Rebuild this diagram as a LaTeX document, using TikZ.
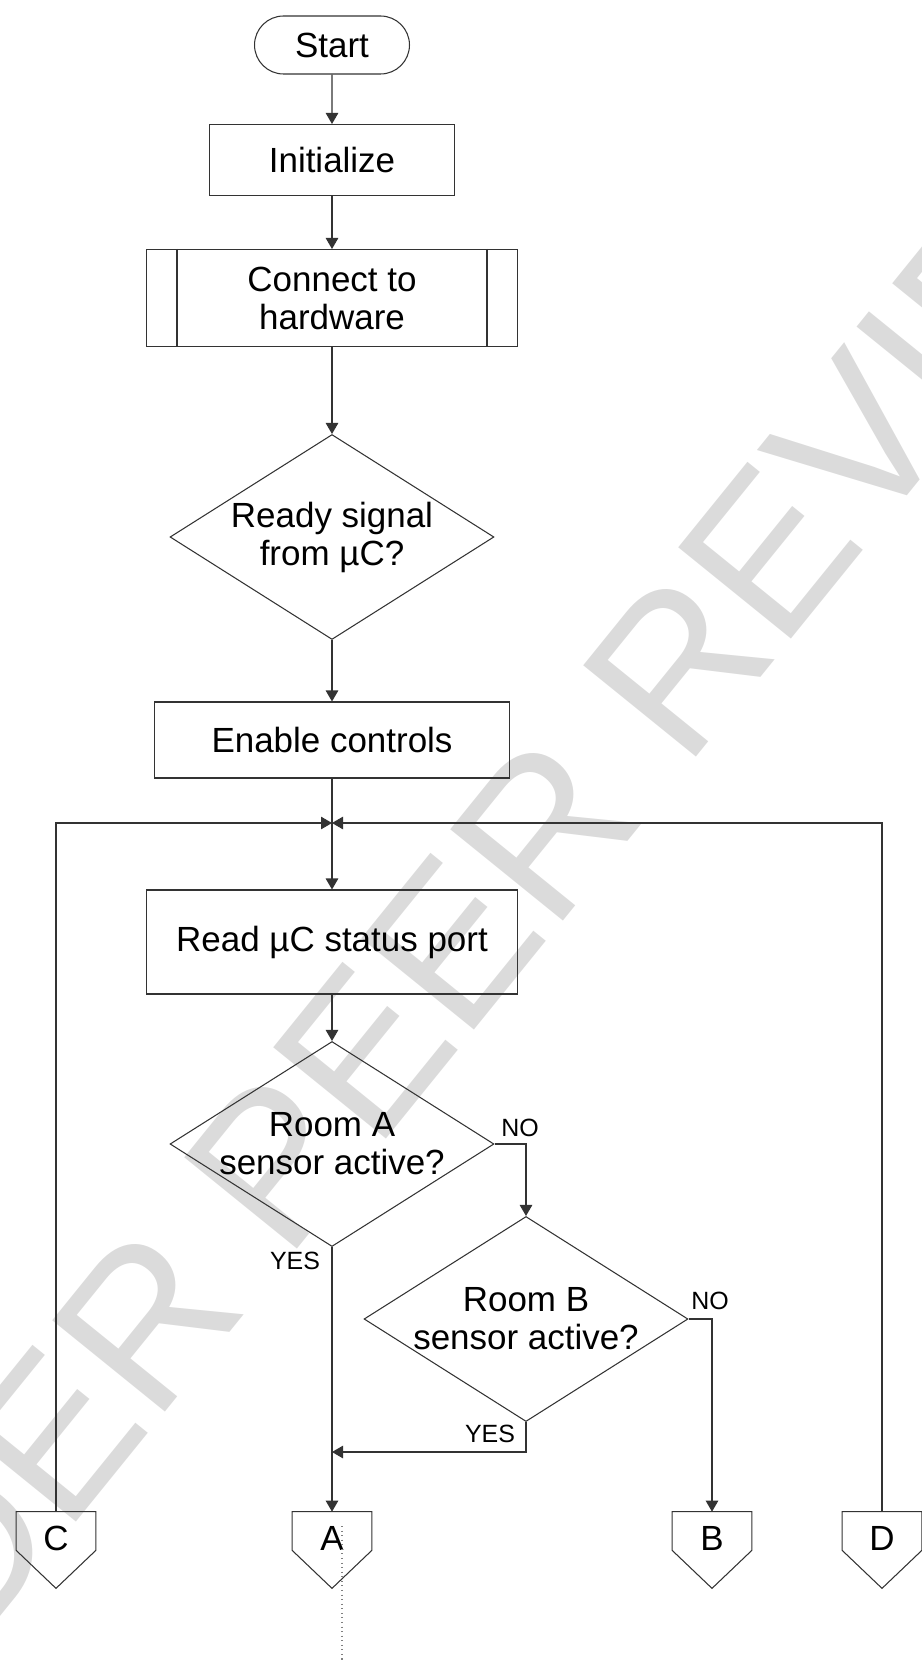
\documentclass[tikz,border=0pt]{standalone}
\usepackage{fontspec}
\setmainfont{Liberation Sans}
\usetikzlibrary{shapes.geometric,shapes.misc,arrows.meta}

\begin{document}
\begin{tikzpicture}[x=0.02cm, y=-0.02cm, %Fluxograma
    box/.style={draw=black!80, line width=0.6pt, font=\fontsize{19.9}{21.6}\selectfont, align=center, inner sep=0pt},
    terminal/.style={box, rounded rectangle, minimum width=3.1cm, minimum height=1.16cm},
    process/.style={box, rectangle},
    decision/.style={box, diamond, aspect=1.58, minimum width=6.48cm, minimum height=4.1cm},
    offpage/.style={font=\fontsize{19.9}{21.6}\selectfont, inner sep=0pt, minimum width=1.58cm, text height=0.76cm, text depth=0pt},
    answer/.style={font=\fontsize{14.2}{15}\selectfont, inner sep=0pt},
    line/.style={draw=black!80, line width=0.6pt},
    arrow/.style={line, -{Triangle[length=0.22cm, width=0.25cm]}},
    wmark/.style={text=black!14, rotate=51, font=\fontsize{120}{120}\selectfont}]
  \useasboundingbox (0,0) rectangle (922,1662); %Moldura
    %Marca d'agua
  \begin{scope}
    \clip (0,0) rectangle (922,1662);
    \node[wmark] (wm) at (438,962) {UNDER PEER REVIEW};
  \end{scope}
    %Blocos
  \node[terminal] (start) at (332,45) {Start};
  \node[process, minimum width=4.9cm, minimum height=1.42cm] (init) at (332,160) {Initialize};
  \node[process, minimum width=7.42cm, minimum height=1.94cm] (conn) at (332,298) {Connect to\\hardware};
  \draw[line] ([xshift=0.62cm]conn.north west) -- ([xshift=0.62cm]conn.south west);
  \draw[line] ([xshift=-0.62cm]conn.north east) -- ([xshift=-0.62cm]conn.south east);
  \node[decision] (ready) at (332,537) {Ready signal\\from µC?};
  \node[process, minimum width=7.12cm, minimum height=1.52cm] (enable) at (332,740) {Enable controls};
  \node[process, minimum width=7.42cm, minimum height=2.08cm] (read) at (332,942) {Read µC status port};
  \node[decision] (roomA) at (332,1144) {Room A\\sensor active?};
  \node[decision] (roomB) at (526,1319) {Room B\\sensor active?};
    %Conectores de saida
  \foreach \n/\x in {C/56, A/332, B/712, D/882}{
    \node[offpage] (off\n) at (\x,1531) {\n};
    \draw[line] (off\n.north west) -- (off\n.north east) -- (off\n.south east)
      -- ([yshift=-0.76cm]off\n.south) -- (off\n.south west) -- cycle;
  }
  \coordinate (merge) at (332,823);
  \coordinate (joinA) at (332,1452);
  \coordinate (dotA) at (342,1526);
    %Ligacoes
  \draw[arrow] (start) -- (init);
  \draw[arrow] (init) -- (conn);
  \draw[arrow] (conn) -- (ready);
  \draw[arrow] (ready) -- (enable);
  \draw[arrow] (enable) -- (read);
  \draw[arrow] (offC.north) |- (merge);
  \draw[arrow] (offD.north) |- (merge);
  \draw[arrow] (read) -- (roomA);
  \draw[arrow] (roomA.east) -| (roomB.north);
  \draw[arrow] (roomA.south) -- (offA.north);
  \draw[arrow] (roomB.east) -| (offB.north);
  \draw[arrow] (roomB.south) |- (joinA);
  \draw[dotted, gray, line width=0.6pt] (dotA) -- (332+10,1662);
    %Rotulos
  \node[answer] (noA) at (520,1128) {NO};
  \node[answer] (yesA) at (295,1261) {YES};
  \node[answer] (noB) at (710,1301) {NO};
  \node[answer] (yesB) at (490,1434) {YES};
\end{tikzpicture}
\end{document}
